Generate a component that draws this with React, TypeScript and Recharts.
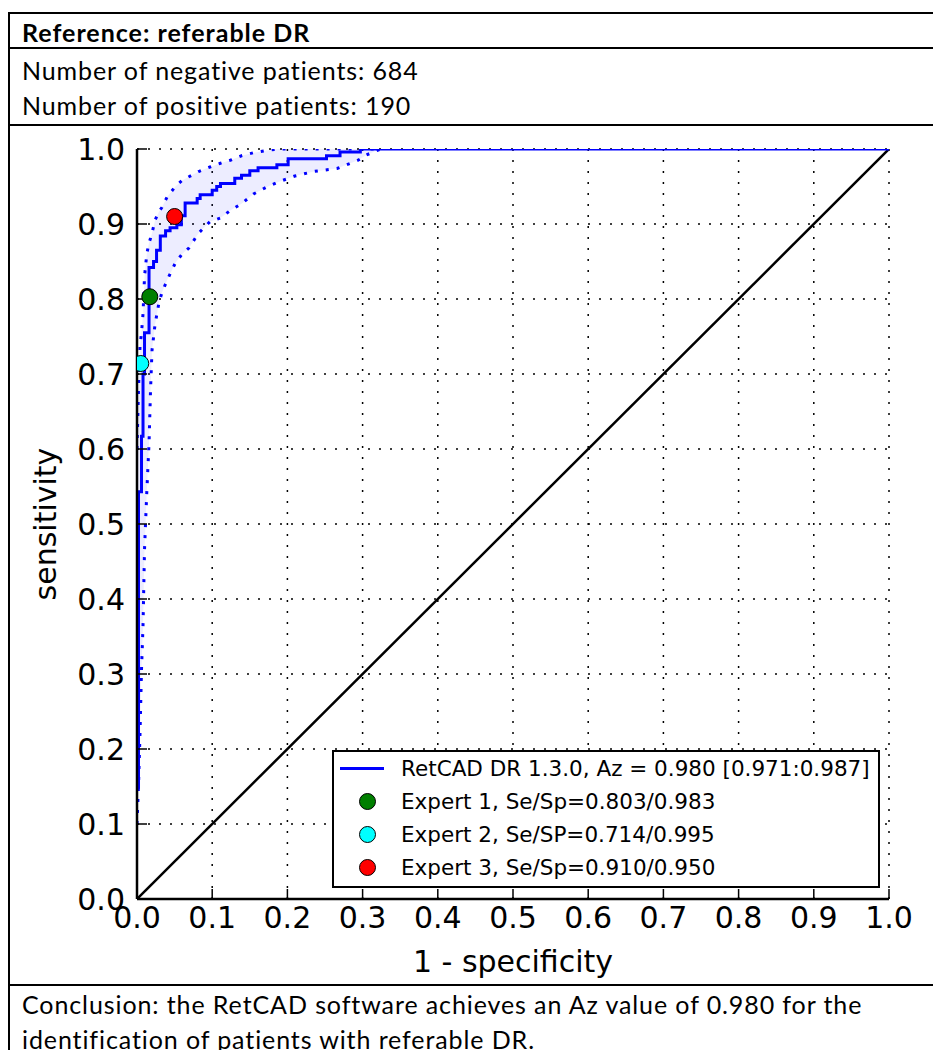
import React from "react";
import {
  ComposedChart,
  Line,
  Area,
  Scatter,
  XAxis,
  YAxis,
  CartesianGrid,
  Legend,
} from "recharts";

// ROC curve corners (1 - specificity, sensitivity), drawn as stepAfter
const rocX = [0.002, 0.002, 0.006, 0.008, 0.01, 0.016, 0.022, 0.026, 0.031, 0.038, 0.044, 0.053, 0.059, 0.064, 0.08, 0.084, 0.1, 0.106, 0.111, 0.13, 0.139, 0.15, 0.161, 0.186, 0.201, 0.252, 0.27, 0.297, 1.0];
const rocY = [0.147, 0.543, 0.617, 0.7, 0.755, 0.842, 0.85, 0.865, 0.884, 0.891, 0.895, 0.899, 0.911, 0.928, 0.934, 0.939, 0.945, 0.95, 0.954, 0.961, 0.965, 0.971, 0.975, 0.979, 0.987, 0.991, 0.996, 1.0, 1.0];

// confidence band
const bandX = [0, 0.002, 0.004, 0.006, 0.008, 0.01, 0.013, 0.016, 0.018, 0.02, 0.024, 0.029, 0.033, 0.04, 0.051, 0.06, 0.069, 0.082, 0.097, 0.111, 0.124, 0.139, 0.155, 0.172, 0.188, 0.21, 0.235, 0.266, 0.294, 0.305, 0.319, 0.325];
const bandHigh = [0.6, 0.68, 0.737, 0.755, 0.78, 0.83, 0.86, 0.875, 0.881, 0.888, 0.905, 0.916, 0.922, 0.936, 0.95, 0.958, 0.963, 0.97, 0.976, 0.981, 0.985, 0.991, 0.995, 0.998, 1, 1, 1, 1, 1, 1, 1, 1];
const bandLow = [0.1, 0.151, 0.22, 0.306, 0.364, 0.466, 0.542, 0.608, 0.679, 0.732, 0.766, 0.794, 0.808, 0.825, 0.848, 0.86, 0.868, 0.888, 0.903, 0.908, 0.918, 0.927, 0.94, 0.949, 0.956, 0.964, 0.97, 0.974, 0.985, 0.992, 0.998, 1.0];

const experts = [
  { name: "Expert 1, Se/Sp=0.803/0.983", x: 0.017, y: 0.803, color: "#007f00" },
  { name: "Expert 2, Se/SP=0.714/0.995", x: 0.005, y: 0.714, color: "#00ffff" },
  { name: "Expert 3, Se/Sp=0.910/0.950", x: 0.05, y: 0.91, color: "#ff0000" },
];
const rocName = "RetCAD DR 1.3.0, Az = 0.980 [0.971:0.987]";
const diagX = [0, 1];
const ticks = [0, 0.1, 0.2, 0.3, 0.4, 0.5, 0.6, 0.7, 0.8, 0.9, 1.0];

const rocData = rocX.map((x, i) => ({ x, y: rocY[i] }));
const bandData = bandX.map((x, i) => ({ x, low: bandLow[i], high: bandHigh[i] }));
const diagData = diagX.map((x) => ({ x, y: x }));

const MPL = "'DejaVu Sans', sans-serif";
const TEXT = "Lato, 'Open Sans', sans-serif";

const LegendBox = () => (
  <div
    style={{
      width: 548,
      height: 138,
      boxSizing: "border-box",
      border: "2px solid #000",
      background: "#fff",
      fontFamily: MPL,
      fontSize: 21.5,
      color: "#000",
      paddingTop: 0,
    }}
  >
    <div style={{ display: "flex", alignItems: "center", height: 33 }}>
      <span style={{ width: 44, height: 2.5, background: "#0000ff", marginLeft: 6, marginRight: 17 }} />
      <span>{rocName}</span>
    </div>
    {experts.map((e) => (
      <div key={e.name} style={{ display: "flex", alignItems: "center", height: 33 }}>
        <span style={{ width: 67, display: "flex", justifyContent: "center" }}>
          <span
            style={{
              width: 15,
              height: 15,
              borderRadius: "50%",
              background: e.color,
              border: "1px solid #000",
              display: "inline-block",
            }}
          />
        </span>
        <span>{e.name}</span>
      </div>
    ))}
  </div>
);

const dot = (color: string) => (p: any) => (
  <circle cx={p.cx} cy={p.cy} r={8} fill={color} stroke="#000" strokeWidth={1} />
);

const hLine = (top: number) => (
  <div style={{ position: "absolute", left: 8, top, width: 940, height: 2, background: "#000" }} />
);

const textRow = { position: "absolute" as const, left: 22, fontFamily: TEXT, fontSize: 25, letterSpacing: 0.9, lineHeight: "30px" };

export default function App() {
  const tickStyle = { fill: "#000", fontSize: 30, fontFamily: MPL };
  return (
    <div style={{ position: "relative", width: 933, height: 1050, overflow: "hidden", background: "#fff" }}>
      <style>{`body{margin:0;overflow:hidden}`}</style>
      {hLine(12)}
      {hLine(47)}
      {hLine(124)}
      {hLine(984)}
      <div style={{ position: "absolute", left: 8, top: 12, width: 2, height: 1040, background: "#000" }} />
      <div style={{ ...textRow, top: 17, fontWeight: 700, letterSpacing: 1 }}>Reference: referable DR</div>
      <div style={{ ...textRow, top: 55 }}>Number of negative patients: 684</div>
      <div style={{ ...textRow, top: 90 }}>Number of positive patients: 190</div>
      <div style={{ ...textRow, top: 987, lineHeight: "35px" }}>
        Conclusion: the RetCAD software achieves an Az value of 0.980 for the
        <br />
        identification of patients with referable DR.
      </div>

      <div style={{ position: "absolute", left: 0, top: 0 }}>
        <ComposedChart width={933} height={984} margin={{ top: 149, right: 44, left: 57, bottom: 15 }}>
          <CartesianGrid stroke="#000" strokeDasharray="2 9" strokeWidth={1.5} />
          <XAxis
            xAxisId={0}
            type="number"
            dataKey="x"
            domain={[0, 1]}
            ticks={ticks}
            interval={0}
            height={70}
            tickFormatter={(v: number) => v.toFixed(1)}
            tick={tickStyle}
            tickSize={-10}
            tickMargin={18}
            axisLine={{ stroke: "#000", strokeWidth: 2.5 }}
            tickLine={{ stroke: "#000", strokeWidth: 1.5 }}
            allowDataOverflow
            label={({ viewBox }: any) => (
              <text x={viewBox.x + viewBox.width / 2} y={viewBox.y + 73} textAnchor="middle" fontFamily={MPL} fontSize={30} fill="#000">
                1 - specificity
              </text>
            )}
          />
          <XAxis
            xAxisId="top"
            orientation="top"
            type="number"
            dataKey="x"
            domain={[0, 1]}
            ticks={ticks}
            interval={0}
            height={0}
            tick={() => <g />}
            tickSize={-10}
            axisLine={{ stroke: "#000", strokeWidth: 2.5 }}
            tickLine={{ stroke: "#000", strokeWidth: 1.5 }}
            allowDataOverflow
          />
          <YAxis
            yAxisId={0}
            type="number"
            dataKey="y"
            domain={[0, 1]}
            ticks={ticks}
            interval={0}
            width={80}
            tickFormatter={(v: number) => v.toFixed(1)}
            tick={tickStyle}
            tickSize={-10}
            tickMargin={22}
            axisLine={{ stroke: "#000", strokeWidth: 2.5 }}
            tickLine={{ stroke: "#000", strokeWidth: 1.5 }}
            allowDataOverflow
            label={({ viewBox }: any) => {
              const cx = viewBox.x - 12;
              const cy = viewBox.y + viewBox.height / 2;
              return (
                <text x={cx} y={cy} transform={`rotate(-90, ${cx}, ${cy})`} textAnchor="middle" dominantBaseline="central" fontFamily={MPL} fontSize={30} fill="#000">
                  sensitivity
                </text>
              );
            }}
          />
          <YAxis
            yAxisId="right"
            orientation="right"
            type="number"
            dataKey="y"
            domain={[0, 1]}
            ticks={ticks}
            interval={0}
            width={0}
            tick={() => <g />}
            tickSize={-10}
            axisLine={{ stroke: "#000", strokeWidth: 2.5 }}
            tickLine={{ stroke: "#000", strokeWidth: 1.5 }}
            allowDataOverflow
          />
          <Area
            data={bandData}
            dataKey={(d: any) => [d.low, d.high]}
            type="linear"
            stroke="none"
            fill="#0000ff"
            fillOpacity={0.07}
            isAnimationActive={false}
            legendType="none"
          />
          <Line data={bandData} dataKey="high" type="linear" stroke="#0000ff" strokeWidth={3} strokeDasharray="3 8" dot={false} isAnimationActive={false} legendType="none" />
          <Line data={bandData} dataKey="low" type="linear" stroke="#0000ff" strokeWidth={3} strokeDasharray="3 8" dot={false} isAnimationActive={false} legendType="none" />
          <Line data={diagData} dataKey="y" type="linear" stroke="#000" strokeWidth={2.5} dot={false} isAnimationActive={false} legendType="none" />
          <Line data={rocData} dataKey="y" name={rocName} type="stepAfter" stroke="#0000ff" strokeWidth={3} dot={false} isAnimationActive={false} />
          {experts.map((e) => (
            <Scatter key={e.name} name={e.name} data={[{ x: e.x, y: e.y }]} fill={e.color} shape={dot(e.color)} isAnimationActive={false} />
          ))}
          <Legend
            layout="vertical"
            align="center"
            verticalAlign="middle"
            content={<LegendBox />}
            wrapperStyle={{ left: 332, top: 750, width: 548, height: 138 }}
          />
        </ComposedChart>
      </div>
    </div>
  );
}
